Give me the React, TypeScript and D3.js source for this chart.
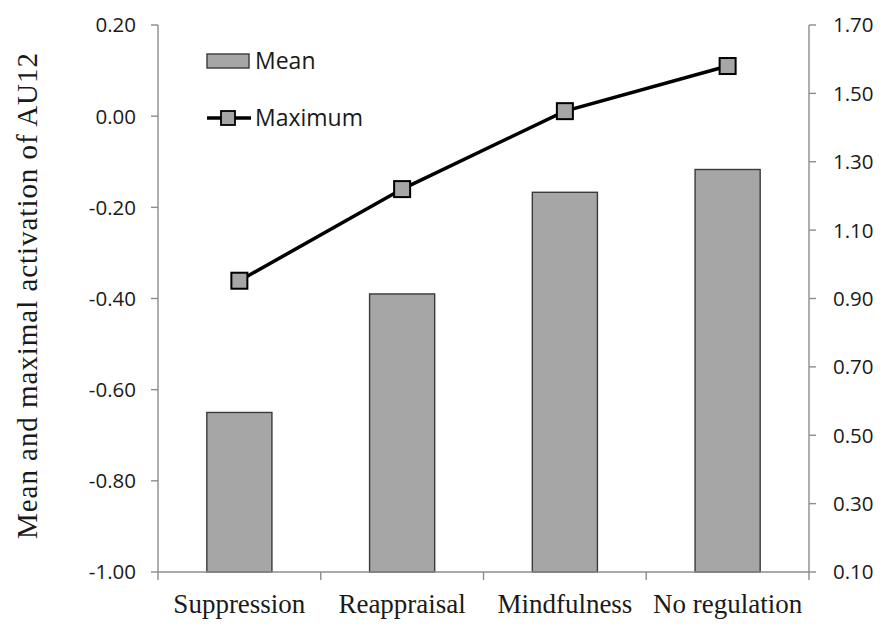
import React from "react";
import * as d3 from "d3";

const categories = ["Suppression", "Reappraisal", "Mindfulness", "No regulation"];
const meanValues = [-0.65, -0.39, -0.167, -0.117];
const maxValues = [0.952, 1.22, 1.448, 1.58];
const leftTicks = [0.2, 0.0, -0.2, -0.4, -0.6, -0.8, -1.0];
const rightTicks = [1.7, 1.5, 1.3, 1.1, 0.9, 0.7, 0.5, 0.3, 0.1];
const yTitle = "Mean and maximal activation of AU12";
const legendLabels = ["Mean", "Maximum"];

const W = 892;
const H = 629;
const left = 158;
const right = 809;
const top = 25;
const bottom = 572;

const BAR_FILL = "#a6a6a6";
const AXIS = "#8c8c8c";
const TXT = "#1a1a1a";
const sans = "'Open Sans', sans-serif";
const serif = "'Liberation Serif', 'DejaVu Serif', serif";

export default function App() {
  const x = d3.scaleBand<string>().domain(categories).range([left, right]).padding(0);
  const yL = d3.scaleLinear().domain([-1, 0.2]).range([bottom, top]);
  const yR = d3.scaleLinear().domain([0.1, 1.7]).range([bottom, top]);
  const bw = x.bandwidth();
  const cx = (c: string) => (x(c) as number) + bw / 2;

  const line = d3
    .line<number>()
    .x((_, i) => cx(categories[i]))
    .y((d) => yR(d));

  const ms = 16;
  const boundaries = [left, ...categories.map((c) => (x(c) as number) + bw)];

  return (
    <svg
      width={W}
      height={H}
      style={{ position: "absolute", left: 0, top: 0, background: "#fff" }}
    >
      {/* bars */}
      {meanValues.map((v, i) => (
        <rect
          key={i}
          x={cx(categories[i]) - bw * 0.2}
          y={yL(v)}
          width={bw * 0.4}
          height={yL(-1) - yL(v)}
          fill={BAR_FILL}
          stroke="#3a3a3a"
          strokeWidth={1.4}
        />
      ))}

      {/* axes */}
      <line x1={left} x2={left} y1={top} y2={bottom} stroke={AXIS} strokeWidth={1.4} />
      <line x1={right} x2={right} y1={top} y2={bottom} stroke={AXIS} strokeWidth={1.4} />
      <line x1={left} x2={right} y1={bottom} y2={bottom} stroke={AXIS} strokeWidth={1.4} />

      {leftTicks.map((t, i) => (
        <g key={"l" + i}>
          <line x1={left - 7} x2={left} y1={yL(t)} y2={yL(t)} stroke={AXIS} strokeWidth={1.4} />
          <text
            x={136}
            y={yL(t)}
            dy="0.36em"
            textAnchor="end"
            fontFamily={sans}
            fontSize={20.5}
            fill={TXT}
          >
            {t.toFixed(2)}
          </text>
        </g>
      ))}
      {rightTicks.map((t, i) => (
        <g key={"r" + i}>
          <line x1={right} x2={right + 7} y1={yR(t)} y2={yR(t)} stroke={AXIS} strokeWidth={1.4} />
          <text
            x={833}
            y={yR(t)}
            dy="0.36em"
            textAnchor="start"
            fontFamily={sans}
            fontSize={20.5}
            fill={TXT}
          >
            {t.toFixed(2)}
          </text>
        </g>
      ))}
      {boundaries.map((b, i) => (
        <line key={"b" + i} x1={b} x2={b} y1={bottom} y2={bottom + 8} stroke={AXIS} strokeWidth={1.4} />
      ))}
      {categories.map((c) => (
        <text
          key={c}
          x={cx(c)}
          y={613}
          textAnchor="middle"
          fontFamily={serif}
          fontSize={27}
          fill={TXT}
        >
          {c}
        </text>
      ))}

      <text
        transform={`translate(37, 296) rotate(-90)`}
        textAnchor="middle"
        fontFamily={serif}
        fontSize={29}
        textLength={486}
        lengthAdjust="spacing"
        fill={TXT}
      >
        {yTitle}
      </text>

      {/* line series */}
      <path d={line(maxValues) || ""} fill="none" stroke="#000" strokeWidth={3.5} />
      {maxValues.map((v, i) => (
        <rect
          key={"m" + i}
          x={cx(categories[i]) - ms / 2}
          y={yR(v) - ms / 2}
          width={ms}
          height={ms}
          fill={BAR_FILL}
          stroke="#000"
          strokeWidth={2}
        />
      ))}

      {/* legend */}
      <rect x={207} y={54} width={42} height={14} fill={BAR_FILL} stroke="#3a3a3a" strokeWidth={1.4} />
      <text x={255} y={61} dy="0.36em" fontFamily={sans} fontSize={23} fill={TXT}>
        {legendLabels[0]}
      </text>
      <line x1={207} x2={251} y1={118} y2={118} stroke="#000" strokeWidth={3.5} />
      <rect x={221} y={111} width={14} height={14} fill={BAR_FILL} stroke="#000" strokeWidth={1.8} />
      <text x={255} y={118} dy="0.36em" fontFamily={sans} fontSize={23} fill={TXT}>
        {legendLabels[1]}
      </text>
    </svg>
  );
}
